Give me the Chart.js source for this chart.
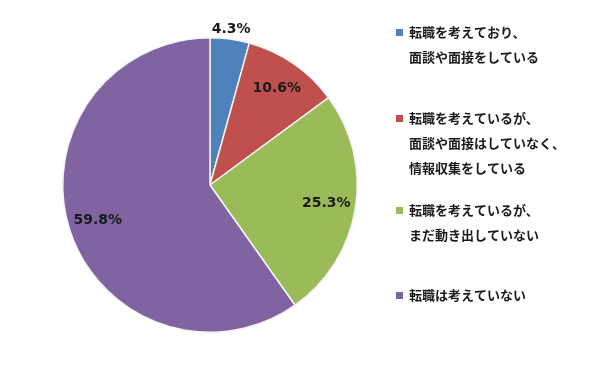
<!DOCTYPE html>
<html lang="ja">
<head>
  <meta charset="UTF-8">
  <title>転職意向</title>
  <script src="https://cdn.jsdelivr.net/npm/chart.js"></script>
  <style>
    html, body { margin: 0; padding: 0; background: #fff; }
    #wrap { width: 600px; height: 370px; position: relative; }
  </style>
</head>
<body>
  <div id="wrap"><canvas id="pieChart" width="600" height="370"></canvas></div>

  <script>
    // 凡例（複数行）
    const labels = [
      ['転職を考えており、', '面談や面接をしている'],
      ['転職を考えているが、', '面談や面接はしていなく、', '情報収集をしている'],
      ['転職を考えているが、', 'まだ動き出していない'],
      ['転職は考えていない']
    ];
    const values = [4.3, 10.6, 25.3, 59.8];
    const colors = ['#4F81BD', '#C0504D', '#9BBB59', '#8064A2'];

    // 凡例の各項目の1行目のy座標
    const legendTops = [32, 118, 210, 295];

    // 割合ラベル
    const pctLabels = {
      id: 'pctLabels',
      afterDatasetsDraw(chart) {
        const ctx = chart.ctx;
        const meta = chart.getDatasetMeta(0);
        ctx.save();
        ctx.font = 'bold 14px "DejaVu Sans", Verdana, sans-serif';
        ctx.fillStyle = '#1a1a1a';
        ctx.textAlign = 'center';
        ctx.textBaseline = 'middle';
        meta.data.forEach((arc, i) => {
          const p = arc.getProps(['x', 'y', 'startAngle', 'endAngle', 'outerRadius'], true);
          const mid = (p.startAngle + p.endAngle) / 2;
          const r = values[i] < 5 ? p.outerRadius + 10 : p.outerRadius * 0.8;
          ctx.fillText(values[i].toFixed(1) + '%', p.x + Math.cos(mid) * r, p.y + Math.sin(mid) * r);
        });
        ctx.restore();
      }
    };

    // 右側の凡例
    const sideLegend = {
      id: 'sideLegend',
      afterDraw(chart) {
        const ctx = chart.ctx;
        ctx.save();
        ctx.font = 'bold 13px "Noto Sans CJK JP", sans-serif';
        ctx.textBaseline = 'middle';
        ctx.textAlign = 'left';
        labels.forEach((lines, i) => {
          const y0 = legendTops[i];
          ctx.fillStyle = colors[i];
          ctx.fillRect(396, y0 - 3, 7, 7);
          ctx.fillStyle = '#1a1a1a';
          lines.forEach((t, j) => ctx.fillText(t, 409, y0 + j * 25));
        });
        ctx.restore();
      }
    };

    new Chart(document.getElementById('pieChart'), {
      type: 'pie',
      data: {
        labels: labels,
        datasets: [{
          data: values,
          backgroundColor: colors,
          borderColor: '#f4f4f4',
          borderWidth: 1.5
        }]
      },
      options: {
        responsive: false,
        animation: false,
        layout: { padding: { left: 62, right: 242, top: 37, bottom: 37 } },
        plugins: {
          legend: { display: false },
          tooltip: { enabled: false }
        }
      },
      plugins: [pctLabels, sideLegend]
    });
  </script>
</body>
</html>
